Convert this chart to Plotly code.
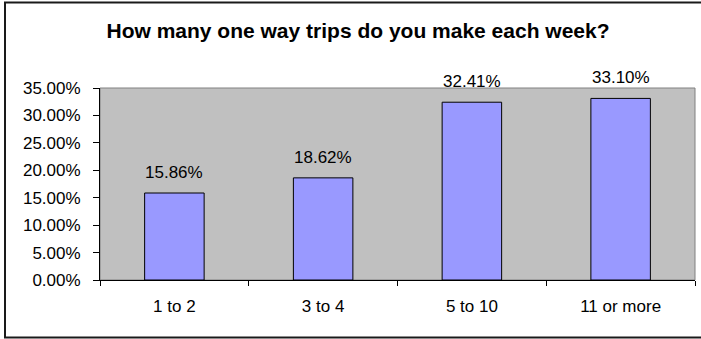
import plotly.graph_objects as go

# Survey results: weekly one-way trips
categories = ["1 to 2", "3 to 4", "5 to 10", "11 or more"]
shares = [0.1586, 0.1862, 0.3241, 0.3310]
title_text = "How many one way trips do you make each week?"

W, H = 701, 339
ML, MR, MT, MB = 100, 6, 88, 59
plot_w = W - ML - MR
plot_h = H - MT - MB

FONT = "Liberation Sans, Arial, sans-serif"

fig = go.Figure(
    go.Bar(
        x=categories,
        y=shares,
        marker=dict(color="#9999FF", line=dict(color="black", width=1)),
        width=0.4,
        hoverinfo="skip",
    )
)

# Value labels above each bar
for cat, val in zip(categories, shares):
    fig.add_annotation(
        x=cat, y=val, text=f"{val * 100:.2f}%",
        showarrow=False, yanchor="bottom", yshift=9,
        font=dict(family=FONT, size=17, color="black"),
    )

# Gray frame around the plotting area
fig.add_shape(
    type="rect", xref="paper", yref="paper", x0=0, x1=1, y0=0, y1=1,
    line=dict(color="#808080", width=1), layer="below",
)

# Outer chart border (open on the right edge)
fig.add_shape(
    type="rect", xref="paper", yref="paper",
    x0=-(ML - 5) / plot_w, x1=(plot_w + MR + 10) / plot_w,
    y0=-(MB - 1.5) / plot_h, y1=(plot_h + MT - 2.5) / plot_h,
    line=dict(color="#1a1a1a", width=2), layer="above",
)

fig.update_layout(
    width=W, height=H,
    margin=dict(l=ML, r=MR, t=MT, b=MB, pad=0),
    paper_bgcolor="white",
    plot_bgcolor="#C0C0C0",
    showlegend=False,
    font=dict(family=FONT, size=17, color="black"),
    title=dict(
        text=f"<b>{title_text}</b>",
        x=358 / W, xref="container", xanchor="center",
        y=1 - 31 / H, yref="container", yanchor="middle",
        font=dict(family=FONT, size=21, color="black"),
    ),
    bargap=0.6,
)

fig.update_xaxes(
    showline=True, linecolor="black", linewidth=1,
    ticks="outside", ticklen=5, tickcolor="black", tickwidth=1,
    tickson="boundaries", showgrid=False, zeroline=False,
    ticklabelstandoff=11,
)
fig.update_yaxes(
    range=[0, 0.35], dtick=0.05, tickformat=".2%",
    showline=True, linecolor="black", linewidth=1,
    ticks="outside", ticklen=6, tickcolor="black", tickwidth=1,
    showgrid=False, zeroline=False,
    ticklabelstandoff=9,
)

fig.write_html("out.html")
